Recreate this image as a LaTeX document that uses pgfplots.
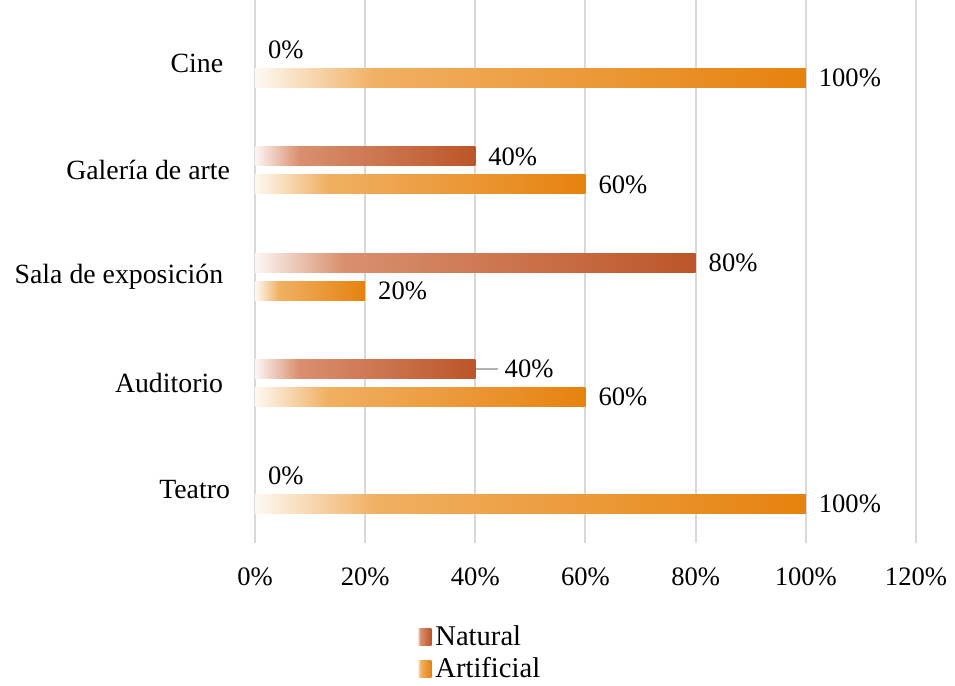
\documentclass[border=0pt]{standalone}
\usepackage{fontspec}
\setmainfont{Liberation Serif}
\usepackage{pgfplots}
\pgfplotsset{compat=1.18}
\usetikzlibrary{calc}

\definecolor{natmid}{HTML}{D9906E}
\definecolor{natend}{HTML}{BC5529}
\definecolor{artmid}{HTML}{F0B062}
\definecolor{artend}{HTML}{E6820E}
\definecolor{gridgray}{HTML}{D9D9D9}

% horizontal gradients (bar box maps to 25bp..75bp)
\pgfdeclarehorizontalshading{natgrad}{100bp}{color(0bp)=(white); color(25bp)=(natmid!8); color(35bp)=(natmid); color(75bp)=(natend); color(100bp)=(natend)}
\pgfdeclarehorizontalshading{artgrad}{100bp}{color(0bp)=(white); color(25bp)=(artmid!8); color(36bp)=(artmid); color(75bp)=(artend); color(100bp)=(artend)}

\pgfplotsset{
    nat/.style={draw=none, shade, shading=natgrad, bar shift=7pt,
        legend image code/.code={\path[shade,shading=natgrad] (0pt,-4.25pt) rectangle (7pt,4.25pt);}},
    art/.style={draw=none, shade, shading=artgrad, bar shift=-7pt,
        legend image code/.code={\path[shade,shading=artgrad] (0pt,-4.25pt) rectangle (7pt,4.25pt);}},
}

\begin{document}
\begin{tikzpicture}
\begin{axis}[
    name=ax,
    scale only axis,
    width=330.5pt, height=271.5pt,
    xmin=0, xmax=120, ymin=-0.5, ymax=4.6,
    xbar, bar width=9.5pt,
    xtick={0,20,...,120},
    xticklabel={\pgfmathprintnumber{\tick}\%},
    ytick={0,1,2,3,4},
    yticklabels={Teatro, Auditorio\hspace*{3.4pt}, Sala de exposición\hspace*{3.4pt}, Galería de arte, Cine\hspace*{3.4pt}},
    axis line style={draw=none},
    major tick length=0pt,
    xmajorgrids,
    grid style={gridgray, line width=1pt},
    /pgf/number format/assume math mode=true,
    tick label style={font=\fontsize{13.3}{16}\selectfont},
    yticklabel style={xshift=-9pt, font=\fontsize{13.9}{16}\selectfont},
    xticklabel style={yshift=-9pt},
    point meta=x,
    nodes near coords={\pgfmathprintnumber{\pgfplotspointmeta}\%},
    nodes near coords style={font=\fontsize{13.3}{16}\selectfont, black, xshift=3pt},
    legend style={at={(0.236,-0.137)}, anchor=north west, draw=none, fill=none,
        font=\fontsize{14.3}{16}\selectfont, row sep=0.5pt,
        /tikz/every even column/.append style={column sep=2pt}},
    legend cell align=left,
]
% one plot per bar, so that each bar gets its own gradient
\addplot[nat] coordinates {(80,2)};
\addplot[art] coordinates {(100,0)};
\addplot[nat, forget plot] coordinates {(40,3)};
\addplot[art, forget plot] coordinates {(60,1)};
\addplot[art, forget plot] coordinates {(20,2)};
\addplot[art, forget plot] coordinates {(60,3)};
\addplot[art, forget plot] coordinates {(100,4)};
% Auditorio natural, label with leader line
\addplot[nat, forget plot,
    nodes near coords={\textcolor{gray!60}{\rule[0.3em]{11pt}{1pt}}\hspace{3.5pt}\pgfmathprintnumber{\pgfplotspointmeta}\%},
    nodes near coords style={xshift=-3pt, inner xsep=0pt}]
    coordinates {(40,1)};
% zero values (labels only)
\addplot[draw=none, fill=none, bar shift=7pt, forget plot]
    coordinates {(0,0) (0,4)};
\legend{Natural, Artificial}
\end{axis}
\pgfresetboundingbox
\path ($(ax.south west)+(-127.5pt,-71.5pt)$) rectangle ($(ax.north east)+(19.5pt,0pt)$);
\end{tikzpicture}
\end{document}
